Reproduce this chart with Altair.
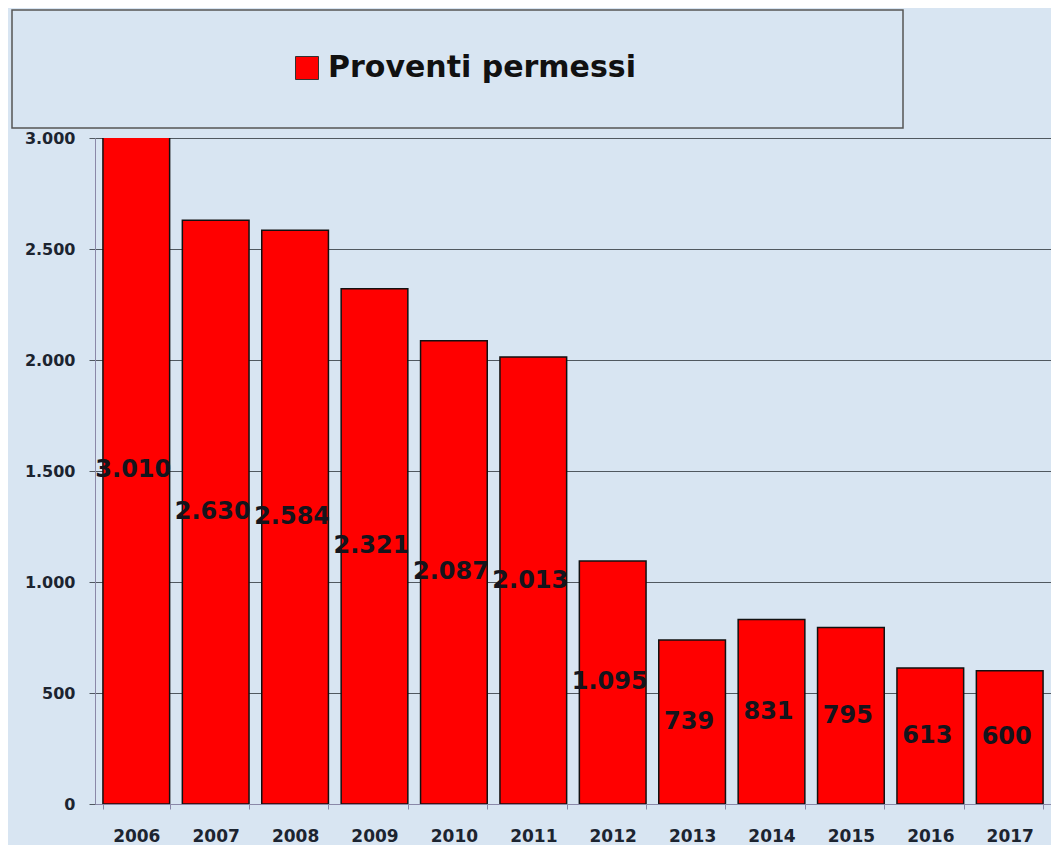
import altair as alt
import pandas as pd

anni = ["2006", "2007", "2008", "2009", "2010", "2011", "2012", "2013", "2014", "2015", "2016", "2017"]
valori = [3010, 2630, 2584, 2321, 2087, 2013, 1095, 739, 831, 795, 613, 600]
serie = "Proventi permessi"
y_ticks = [0, 500, 1000, 1500, 2000, 2500, 3000]

df = pd.DataFrame({"anno": anni, "valore": valori, "serie": [serie] * len(anni)})

BG = "#d8e5f2"
FONT = "DejaVu Sans"

x_enc = alt.X(
    "anno:N",
    title=None,
    sort=anni,
    scale=alt.Scale(paddingInner=0.16, paddingOuter=0.1),
    axis=alt.Axis(
        labelAngle=0, labelFont=FONT, labelFontWeight="bold", labelFontSize=17,
        labelColor="#1c2430", labelPadding=19, tickBand="extent", tickSize=5,
        tickColor="#8a88a8", domainColor="#8a88a8", grid=False,
    ),
)
y_enc = alt.Y(
    "valore:Q",
    title=None,
    scale=alt.Scale(domain=[0, 3000], nice=False),
    axis=alt.Axis(
        values=y_ticks, labelExpr="replace(format(datum.value, ','), ',', '.')",
        labelFont=FONT, labelFontWeight="bold", labelFontSize=16, labelColor="#1c2430",
        labelPadding=14, tickSize=6, tickColor="#505860", domainColor="#8a88a8",
        grid=True, gridColor="#505860", gridWidth=1,
    ),
)

base = alt.Chart(df)

bars = base.mark_bar(stroke="#111111", strokeWidth=1.5, clip=True).encode(
    x=x_enc,
    y=y_enc,
    color=alt.Color(
        "serie:N",
        scale=alt.Scale(domain=[serie], range=["#ff0000"]),
        legend=alt.Legend(
            title=None, orient="none", legendX=197, legendY=-85,
            symbolType="square", symbolSize=529, symbolStrokeColor="#333333",
            symbolStrokeWidth=1, labelFont=FONT, labelFontWeight="bold",
            labelFontSize=30, labelColor="#111111", labelOffset=6, labelLimit=600,
        ),
    ),
)

labels = base.transform_calculate(
    half="datum.valore / 2",
    etichetta="replace(format(datum.valore, ','), ',', '.')",
).mark_text(
    font=FONT, fontWeight="bold", fontSize=24, color="#14141c", baseline="middle", dx=-3
).encode(
    x=alt.X("anno:N", sort=anni),
    y=alt.Y("half:Q"),
    text="etichetta:N",
)

box = alt.Chart(alt.Data(values=[{"k": 1}])).mark_rect(
    fillOpacity=0, stroke="#555555", strokeWidth=1.5
).encode(
    x=alt.value(-83), x2=alt.value(808), y=alt.value(-128), y2=alt.value(-10)
)

chart = alt.layer(bars, labels, box).properties(
    width=956,
    height=666,
    padding={"left": 87, "top": 130, "right": 0, "bottom": 41},
    autosize=alt.AutoSizeParams(type="none"),
    background=BG,
).configure_view(stroke=None)

chart.save("out.html", embed_options={"renderer": "svg", "actions": False})
